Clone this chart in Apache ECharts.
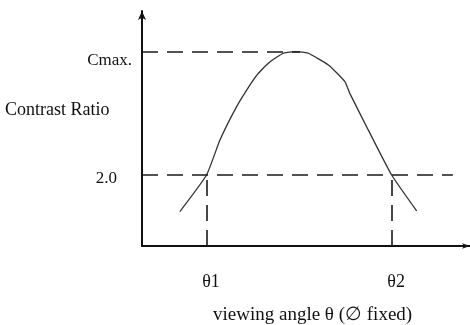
<!DOCTYPE html>
<html>
<head>
<meta charset="utf-8">
<style>
  html, body { margin: 0; padding: 0; background: #fff; }
  #chart { width: 470px; height: 325px; }
</style>
<script src="https://cdn.jsdelivr.net/npm/echarts@6/dist/echarts.min.js"></script>
</head>
<body>
<div id="chart"></div>
<script>
// Contrast ratio versus viewing angle (azimuth held fixed)
const angle    = [-38.5, -30.4, -26.3, -21.3, -16.9, -14.7, -11.1, -7.1, -4.6, -2.0, 0.5, 6.6, 11.6, 13.1, 18.7, 25.8, 33.4];
const contrast = [0.97, 2.0, 2.99, 3.92, 4.58, 4.86, 5.19, 5.43, 5.47, 5.47, 5.43, 5.10, 4.63, 4.30, 3.27, 2.0, 0.99];

const cMax = 5.47;          // peak contrast ratio
const cMaxAngle = -2.0;     // angle of the peak
const threshold = 2.0;      // acceptable contrast level
const thresholdEnd = 44.4;  // where the 2.0 guide stops
const theta1 = -30.4;
const theta2 = 25.8;

const xMin = -50, xMax = 49.6;
const yMin = 0, yMax = 6.62;

const yTickValues = [threshold, cMax];
const xTickValues = [theta1, theta2];
const xTickText = ['\u03b81', '\u03b82'];

const FONT = "'Liberation Serif', 'Times New Roman', serif";
const INK = '#111';

const chart = echarts.init(document.getElementById('chart'), null, { renderer: 'canvas' });

const dash = { type: [16, 9], width: 1.6, color: '#1a1a1a' };

chart.setOption({
  animation: false,
  backgroundColor: '#fff',
  grid: { left: 142, right: 0, top: 11, bottom: 79 },
  xAxis: {
    type: 'value', min: xMin, max: xMax,
    axisLine: { show: true, onZero: false, symbol: ['none', 'arrow'], symbolSize: [4, 8],
      lineStyle: { color: INK, width: 2 } },
    axisTick: { show: false },
    splitLine: { show: false },
    axisLabel: {
      customValues: xTickValues,
      formatter: v => '{t|' + xTickText[xTickValues.indexOf(v)] + '}',
      margin: 27, color: INK,
      rich: { t: { fontFamily: FONT, fontSize: 18, color: INK, padding: [0, 0, 0, 9] } }
    }
  },
  yAxis: {
    type: 'value', min: yMin, max: yMax,
    axisLine: { show: true, onZero: false, symbol: ['none', 'arrow'], symbolSize: [6, 9],
      lineStyle: { color: INK, width: 2 } },
    axisTick: { show: false },
    splitLine: { show: false },
    axisLabel: {
      customValues: yTickValues,
      formatter: v => v === cMax ? '{c|Cmax.}' : '{t|2.0}',
      margin: 10, fontFamily: FONT, fontSize: 17, color: INK,
      rich: {
        c: { fontFamily: FONT, fontSize: 17, color: INK, padding: [18, 0, 0, 0] },
        t: { fontFamily: FONT, fontSize: 17, color: INK, padding: [8, 15, 0, 0] }
      }
    }
  },
  graphic: [
    { type: 'text', left: 5, top: 101,
      style: { text: 'Contrast Ratio', font: '18px ' + FONT, fill: INK } },
    { type: 'text', left: 213, top: 306,
      style: { text: 'viewing angle \u03b8 (\u2205 fixed)', font: '19px ' + FONT, fill: INK } }
  ],
  series: [{
    type: 'line',
    data: angle.map((a, i) => [a, contrast[i]]),
    smooth: 0.15,
    showSymbol: false,
    lineStyle: { color: '#333', width: 1.3 },
    markLine: {
      silent: true, symbol: 'none', label: { show: false },
      lineStyle: dash,
      data: [
        [{ coord: [xMin, cMax] }, { coord: [cMaxAngle, cMax] }],
        [{ coord: [xMin, threshold] }, { coord: [thresholdEnd, threshold] }],
        [{ coord: [theta1, yMin] }, { coord: [theta1, threshold] }],
        [{ coord: [theta2, yMin] }, { coord: [theta2, threshold] }]
      ]
    }
  }]
});
</script>
</body>
</html>
